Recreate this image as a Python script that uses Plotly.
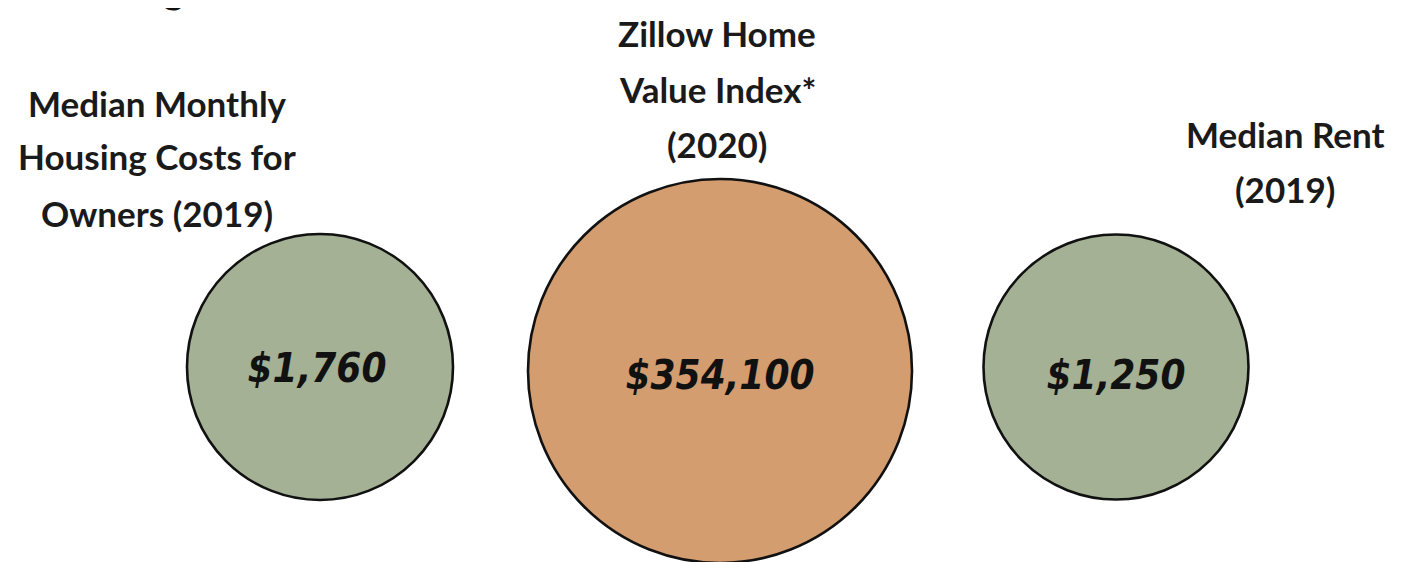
import plotly.graph_objects as go

# ---- data ----
categories = ["Median Monthly Housing Costs for Owners (2019)",
              "Zillow Home Value Index* (2020)",
              "Median Rent (2019)"]
values = [1760, 354100, 1250]
value_labels = ["$" + format(v, ",") for v in values]
label_lines = [["Median Monthly", "Housing Costs for", "Owners (2019)"],
               ["Zillow Home", "Value Index*", "(2020)"],
               ["Median Rent", "(2019)"]]

# ---- layout / style (page pixel coordinates; page body has an 8px margin) ----
W, H = 1407, 562
OFF = 8
centers_x = [320, 720, 1116]
centers_y = [367, 371, 367]
diameters = [266, 384, 265]
colors = ["#a4b195", "#d39d70", "#a4b195"]
text_x = [317, 720, 1116]
text_y = [372, 379, 379]
label_pos = [(157, [103, 156, 213]), (717, [33, 89, 144]), (1285, [134, 189])]

fig = go.Figure()
fig.add_trace(go.Scatter(
    x=centers_x, y=centers_y, mode="markers",
    marker=dict(size=diameters, color=colors, opacity=1,
                line=dict(color="#111111", width=2.6)),
    hoverinfo="text", hovertext=[c + ": " + l for c, l in zip(categories, value_labels)],
    showlegend=False,
))
fig.add_trace(go.Scatter(
    x=text_x, y=text_y, mode="text", text=value_labels,
    textposition="middle center",
    textfont=dict(family="DejaVu Sans Condensed, DejaVu Sans", size=40,
                  color="#111111", weight="bold", style="italic"),
    hoverinfo="skip", showlegend=False,
))

annotations = []
for (cx, ys), lines in zip(label_pos, label_lines):
    for yy, line in zip(ys, lines):
        annotations.append(dict(x=cx, y=yy, xref="x", yref="y", text=line,
                                showarrow=False, xanchor="center", yanchor="middle",
                                font=dict(family="Lato", size=35, color="#1a1a1a",
                                          weight="bold")))
# cut-off heading fragment at the top-left (only the descender of its "g" shows)
annotations.append(dict(x=(186 - OFF) / W, y=1 - (14 - OFF) / H, xref="paper", yref="paper",
                        text="Housing", showarrow=False, xanchor="right", yanchor="bottom",
                        font=dict(family="Lato", size=40, color="#111111", weight="bold")))

fig.update_layout(
    width=W, height=H,
    margin=dict(l=0, r=0, t=0, b=0),
    paper_bgcolor="white", plot_bgcolor="white",
    xaxis=dict(range=[OFF, W + OFF], visible=False, fixedrange=True),
    yaxis=dict(range=[H + OFF, OFF], visible=False, fixedrange=True),
    annotations=annotations,
)
fig.write_html("out.html")
